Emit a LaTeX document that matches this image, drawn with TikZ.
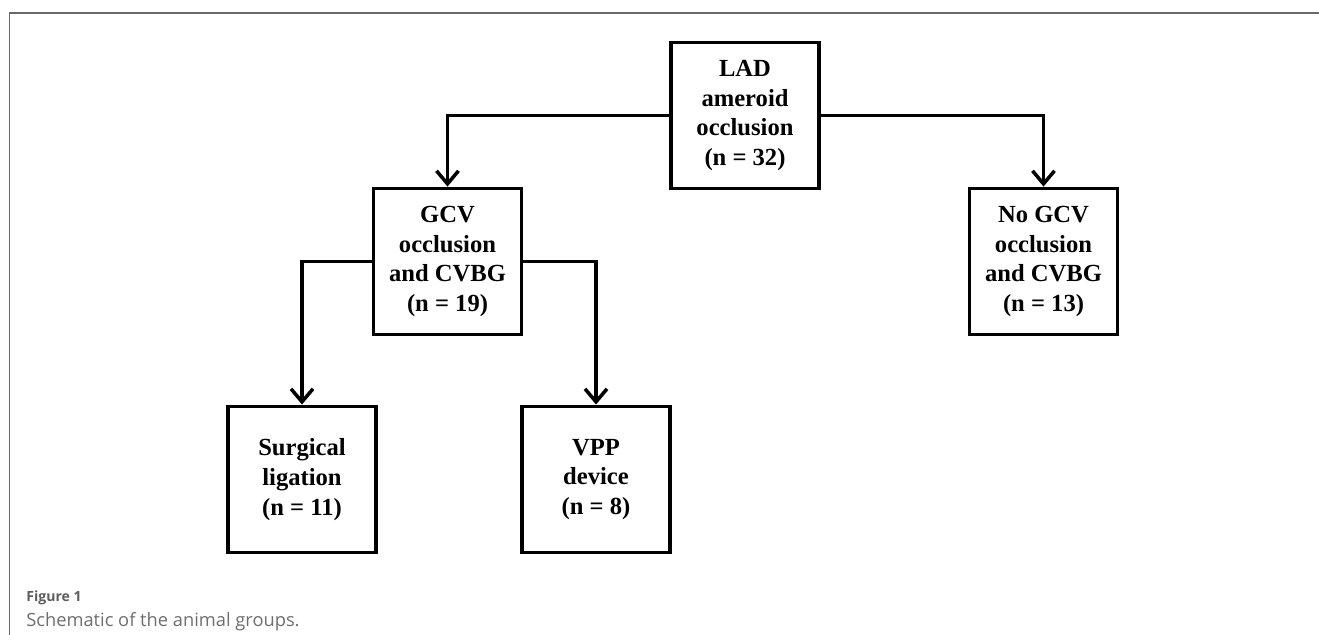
\documentclass[tikz,border=0pt]{standalone}
\usepackage{fontspec}
\setmainfont{Liberation Serif}
\newfontfamily\capfont{Open Sans}
\usetikzlibrary{arrows.meta}

\definecolor{framegray}{RGB}{105,105,105}
\definecolor{capgray}{RGB}{110,110,110}

\begin{document}
\begin{tikzpicture}
				\useasboundingbox (0,0) rectangle (26.38,12.7);
				\draw [framegray, line width=0.6pt] (0.19,0) coordinate (f1) -- (0.19,12.44) -- (26.38,12.44);

				\begin{scope}[every node/.style={rectangle,draw,line width=2.2pt,
                    minimum width=2.96cm,minimum height=2.92cm,inner sep=2pt,
                    align=center,font=\fontsize{14}{17}\selectfont\bfseries}]
                    \node (LAD) at (14.9,10.39) {LAD\\ameroid\\occlusion\\(n = 32)};
                    \node (GCV) at (8.95,7.47) {GCV\\occlusion\\and CVBG\\(n = 19)};
                    \node (NoGCV) at (20.87,7.47) {No GCV\\occlusion\\and CVBG\\(n = 13)};
                    \node (Surg) at (6.04,3.11) {Surgical\\ligation\\(n = 11)};
                    \node (VPP) at (11.92,3.11) {VPP\\device\\(n = 8)};
                \end{scope}

                \begin{scope}[>={Straight Barb[length=2.6mm,width=4.4mm]},
                every path/.style={draw=black,line width=2pt}]
                    \draw [->] (LAD) -| (GCV);
                    \draw [->] (LAD) -| (NoGCV);
                    \draw [->] (GCV) -| (Surg);
                    \draw [->] (GCV) -| (VPP);
                \end{scope}

                \node (fig) [anchor=base west, inner sep=0pt, text=capgray!85!black,
                    font=\capfont\fontsize{8}{10}\selectfont\bfseries] at (0.52,0.66) {Figure 1};
                \node (cap) [anchor=base west, inner sep=0pt, text=capgray,
                    font=\capfont\fontsize{10.4}{12}\selectfont] at (0.52,0.16) {Schematic of the animal groups.};
			\end{tikzpicture}
\end{document}
